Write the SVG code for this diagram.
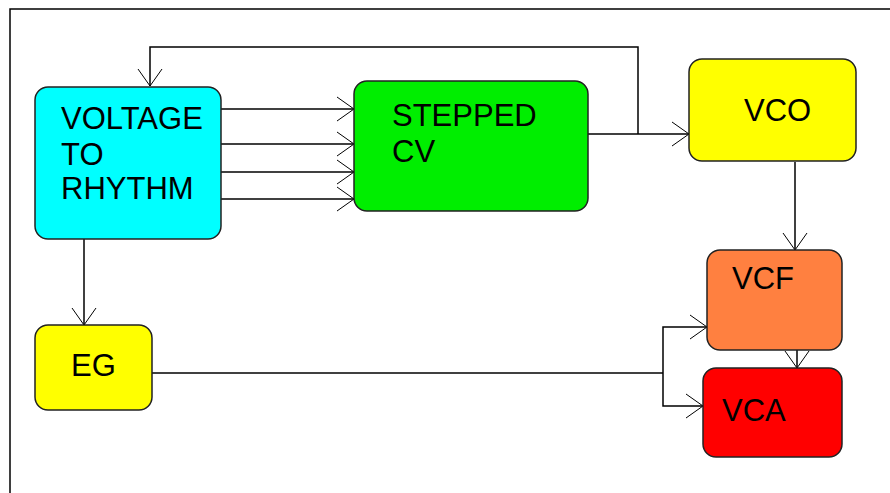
<svg xmlns="http://www.w3.org/2000/svg" width="890" height="493" viewBox="0 0 890 493">
<style>
.box{stroke:#222;stroke-width:1.5}
.lbl{font-family:"Liberation Sans",Arial,sans-serif;font-size:31px;fill:#000}
.c{fill:none;stroke:#000;stroke-width:1.5}
</style>
<defs>
<marker id="ah" markerUnits="userSpaceOnUse" markerWidth="40" markerHeight="40" viewBox="-20 -20 40 40" refX="0" refY="0" orient="auto" overflow="visible">
<path d="M-17,-12 L0,0 L-17,12" fill="none" stroke="#000" stroke-width="1"/>
</marker>
</defs>
<rect width="890" height="493" fill="#fff"/>
<g id="frame"><path d="M10,493 V9 H890" fill="none" stroke="#000" stroke-width="1.5"/></g>
<g id="connectors">
<path class="c" d="M221,109 H354" marker-end="url(#ah)"/>
<path class="c" d="M221,144 H354" marker-end="url(#ah)"/>
<path class="c" d="M221,172 H354" marker-end="url(#ah)"/>
<path class="c" d="M221,199 H354" marker-end="url(#ah)"/>
<path class="c" d="M588,134 H689" marker-end="url(#ah)"/>
<path class="c" d="M638,134 V47 H150 V86" marker-end="url(#ah)"/>
<path class="c" d="M84,239 V325" marker-end="url(#ah)"/>
<path class="c" d="M795,162 V250" marker-end="url(#ah)"/>
<path class="c" d="M797,350 V368" marker-end="url(#ah)"/>
<path class="c" d="M152,373 H663"/>
<path class="c" d="M663,373 V327 H707" marker-end="url(#ah)"/>
<path class="c" d="M663,373 V406 H703" marker-end="url(#ah)"/>
</g>
<g id="v2r">
<rect class="box" x="35" y="87" width="186" height="152" rx="13" fill="#00FFFF"/>
<text class="lbl" x="61" y="129">VOLTAGE</text>
<text class="lbl" x="61" y="165">TO</text>
<text class="lbl" x="61" y="199">RHYTHM</text>
</g>
<g id="stepped">
<rect class="box" x="354" y="81" width="234" height="130" rx="13" fill="#00EE00"/>
<text class="lbl" x="392" y="126">STEPPED</text>
<text class="lbl" x="392" y="162">CV</text>
</g>
<g id="vco">
<rect class="box" x="689" y="59" width="167" height="102" rx="13" fill="#FFFF00"/>
<text class="lbl" x="744" y="121">VCO</text>
</g>
<g id="eg">
<rect class="box" x="35" y="325" width="117" height="85" rx="13" fill="#FFFF00"/>
<text class="lbl" x="71" y="376">EG</text>
</g>
<g id="vcf">
<rect class="box" x="707" y="250" width="135" height="100" rx="13" fill="#FF8040"/>
<text class="lbl" x="732" y="289">VCF</text>
</g>
<g id="vca">
<rect class="box" x="703" y="368" width="139" height="89" rx="13" fill="#FF0000"/>
<text class="lbl" x="722" y="421">VCA</text>
</g>
</svg>
